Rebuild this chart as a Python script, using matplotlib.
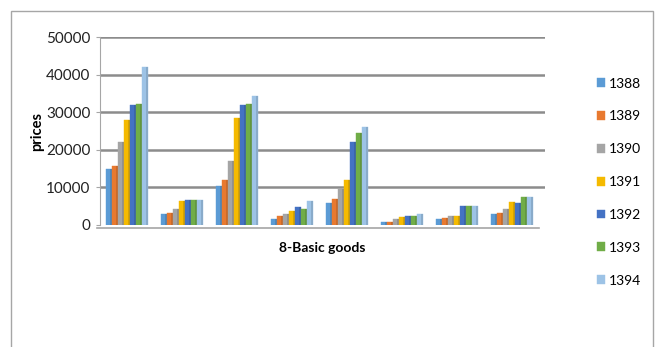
import matplotlib.pyplot as plt
import matplotlib.patches as patches
import numpy as np

plt.rcParams['font.family'] = ['Lato', 'DejaVu Sans']

years = ['1388', '1389', '1390', '1391', '1392', '1393', '1394']
colors = ['#5B9BD5', '#E8792F', '#A5A5A5', '#F5BA00', '#4472C4', '#70AD47', '#9DC3E6']

# one row per year, one value per basic good (8 goods)
v1388 = [14800, 3000, 10500, 1500, 5800, 800, 1600, 2800]
v1389 = [15800, 3300, 12000, 2400, 7000, 900, 1800, 3300]
v1390 = [22000, 4200, 17000, 2800, 9500, 1500, 2400, 4200]
v1391 = [28000, 6300, 28500, 3700, 12000, 2200, 2400, 6000]
v1392 = [32000, 6700, 31800, 4900, 22000, 2500, 5000, 5800]
v1393 = [32300, 6700, 32300, 4200, 24500, 2500, 5000, 7500]
v1394 = [42000, 6700, 34200, 6500, 26000, 2800, 5100, 7500]
series = [v1388, v1389, v1390, v1391, v1392, v1393, v1394]
yticks = [0, 10000, 20000, 30000, 40000, 50000]

fig = plt.figure(figsize=(6.63, 3.47), dpi=100)

# outer chart frame
frame = patches.Rectangle((11 / 663, -0.05), 642 / 663, 1.05 - 11 / 347,
                          transform=fig.transFigure, fill=False,
                          edgecolor='#a6a6a6', linewidth=1)
fig.patches.append(frame)

ax = fig.add_axes([100 / 663, (347 - 225) / 347, 445 / 663, 188 / 347])
ax.set_xlim(-0.49, 7.6)
ax.set_ylim(0, 50000)

for y in yticks[1:]:
    ax.axhline(y, color='#8c8c8c', linewidth=1.8, zorder=0)

x = np.arange(len(v1388))
w = 0.11
for i, (vals, c) in enumerate(zip(series, colors)):
    pos = x + (i - 3) * w
    ax.bar(pos, vals, width=w, color=c, edgecolor=c, linewidth=0.3,
           label=years[i], zorder=2)
    # darker top/side to hint the 3d look
    ax.bar(pos + w * 0.35, vals, width=w * 0.3, color='black', alpha=0.12,
           linewidth=0, zorder=3)

# floor line
ax.plot([-0.55, 7.5], [-700, -700], color='#a6a6a6', linewidth=1.2,
        clip_on=False, zorder=1)

ax.set_yticks(yticks)
ax.set_yticklabels([str(t) for t in yticks], fontsize=11, color='#222222')
ax.set_xticks([])
for s in ['top', 'right', 'bottom']:
    ax.spines[s].set_visible(False)
ax.spines['left'].set_color('#a6a6a6')
ax.tick_params(axis='y', length=3, color='#a6a6a6', pad=4)

ax.set_ylabel('prices', fontsize=10.5, fontweight='bold', labelpad=1)
ax.set_xlabel('8-Basic goods', fontsize=10, fontweight='bold', labelpad=12)

leg = fig.legend(loc='upper left', bbox_to_anchor=(591 / 663, 1 - 72 / 347),
                 frameon=False, fontsize=10, handlelength=0.6,
                 handleheight=0.6, handletextpad=0.3, labelspacing=1.5,
                 borderaxespad=0)

fig.savefig('out.png', dpi=100)
